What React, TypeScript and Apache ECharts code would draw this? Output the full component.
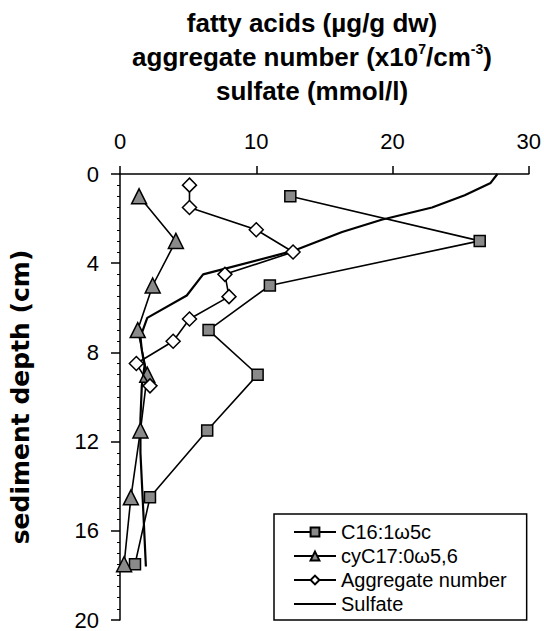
import React, { useEffect, useRef } from "react";
import * as echarts from "echarts";

const FONT = "'Liberation Sans', Arial, sans-serif";
const WIDE = "'DejaVu Sans', Verdana, sans-serif";

const c16Depth = [1, 3, 5, 7, 9, 11.5, 14.5, 17.5];
const c16Values = [12.5, 26.4, 11, 6.5, 10.1, 6.4, 2.2, 1.1];

const cyDepth = [1, 3, 5, 7, 9, 11.5, 14.5, 17.5];
const cyValues = [1.4, 4.1, 2.4, 1.3, 2.0, 1.5, 0.8, 0.3];

const aggDepth = [0.5, 1.5, 2.5, 3.5, 4.5, 5.5, 6.5, 7.5, 8.5, 9.5];
const aggValues = [5.1, 5.1, 10, 12.7, 7.7, 8.0, 5.1, 3.9, 1.2, 2.2];

const sulfDepth = [0, 0.4, 0.95, 1.5, 2.05, 2.6, 3.45, 4.5, 5.45, 6.45, 7.3, 7.9, 8.6, 9.5, 11, 12.5, 15, 17.6];
const sulfValues = [27.7, 27.2, 25.3, 22.9, 19.2, 16.3, 12.7, 6.1, 4.9, 2.0, 1.5, 1.6, 1.8, 1.6, 1.5, 1.5, 1.7, 1.9];

const xTicks = [0, 10, 20, 30];
const yTicks = [0, 4, 8, 12, 16, 20];

const seriesNames = ["C16:1\u03c95c", "cyC17:0\u03c95,6", "Aggregate number", "Sulfate"];

const pairs = (vals: number[], depths: number[]) => vals.map((v, i) => [v, depths[i]]);

export default function App() {
  const ref = useRef<HTMLDivElement>(null);
  useEffect(() => {
    if (!ref.current) return;
    const chart = echarts.init(ref.current, null, { renderer: "svg" });
    const lineStyle = { color: "#000", width: 1.6 };
    chart.setOption({
      animation: false,
      backgroundColor: "#fff",
      grid: { left: 114, top: 174, width: 415, height: 446 },
      xAxis: {
        type: "value",
        position: "top",
        min: xTicks[0],
        max: xTicks[xTicks.length - 1],
        interval: 10,
        axisLine: { show: true, lineStyle: { color: "#000", width: 1.5 } },
        axisTick: { show: true, inside: false, length: 8, lineStyle: { color: "#000", width: 1.5 } },
        axisLabel: { fontSize: 22, color: "#000", fontFamily: FONT, margin: 22 },
        splitLine: { show: false },
      },
      yAxis: {
        type: "value",
        inverse: true,
        min: yTicks[0],
        max: yTicks[yTicks.length - 1],
        interval: 4,
        name: "sediment depth (cm)",
        nameLocation: "middle",
        nameRotate: 90,
        nameGap: 87,
        nameTextStyle: { fontSize: 25, fontWeight: "bold", color: "#000", fontFamily: WIDE },
        axisLine: { show: true, lineStyle: { color: "#000", width: 1.5 } },
        axisTick: { show: true, inside: false, length: 9, lineStyle: { color: "#000", width: 1.5 } },
        minorTick: { show: true, splitNumber: 8, length: 3, lineStyle: { color: "#000", width: 1 } },
        axisLabel: { fontSize: 22, color: "#000", fontFamily: FONT, margin: 21 },
        splitLine: { show: false },
      },
      legend: {
        orient: "vertical",
        left: 274,
        top: 514,
        padding: [8, 20, 6, 19],
        borderColor: "#000",
        borderWidth: 1.5,
        backgroundColor: "#fff",
        itemWidth: 42,
        itemHeight: 11,
        itemGap: 4,
        textStyle: { fontSize: 20, lineHeight: 20, color: "#000", fontFamily: FONT },
        data: [
          { name: seriesNames[0] },
          { name: seriesNames[1] },
          { name: seriesNames[2] },
          { name: seriesNames[3], icon: "path://M0,0L42,0L42,2.2L0,2.2Z", itemStyle: { color: "#000" } },
        ],
      },
      graphic: [
        {
          type: "text",
          x: 312,
          y: 23,
          style: {
            text: "fatty acids (\u00b5g/g dw)",
            fontSize: 26,
            fontWeight: "bold",
            fontFamily: FONT,
            fill: "#000",
            align: "center",
            verticalAlign: "middle",
          },
        },
        {
          type: "text",
          x: 312,
          y: 57,
          style: {
            text: "{n|aggregate number (x10}{s|7}{n|/cm}{s|-3}{n|)}",
            align: "center",
            verticalAlign: "middle",
            rich: {
              n: { fontSize: 26, fontWeight: "bold", fontFamily: FONT, fill: "#000", lineHeight: 30 },
              s: { fontSize: 14, fontWeight: "bold", fontFamily: FONT, fill: "#000", lineHeight: 14, verticalAlign: "top" },
            },
          },
        },
        {
          type: "text",
          x: 312,
          y: 91,
          style: {
            text: "sulfate (mmol/l)",
            fontSize: 26,
            fontWeight: "bold",
            fontFamily: FONT,
            fill: "#000",
            align: "center",
            verticalAlign: "middle",
          },
        },
      ],
      series: [
        {
          name: seriesNames[0],
          type: "line",
          data: pairs(c16Values, c16Depth),
          symbol: "rect",
          symbolSize: 11,
          itemStyle: { color: "#8a8a8a", borderColor: "#000", borderWidth: 1.5 },
          lineStyle,
          z: 4,
        },
        {
          name: seriesNames[1],
          type: "line",
          data: pairs(cyValues, cyDepth),
          symbol: "triangle",
          symbolSize: 15,
          itemStyle: { color: "#8a8a8a", borderColor: "#000", borderWidth: 1.5 },
          lineStyle,
          z: 4,
        },
        {
          name: seriesNames[2],
          type: "line",
          data: pairs(aggValues, aggDepth),
          symbol: "diamond",
          symbolSize: 14,
          itemStyle: { color: "#fff", borderColor: "#000", borderWidth: 1.5 },
          lineStyle,
          z: 5,
        },
        {
          name: seriesNames[3],
          type: "line",
          data: pairs(sulfValues, sulfDepth),
          symbol: "none",
          itemStyle: { color: "#000" },
          lineStyle: { color: "#000", width: 2.2 },
          z: 3,
        },
      ],
    });
    return () => chart.dispose();
  }, []);
  return <div ref={ref} style={{ position: "fixed", left: 0, top: 0, width: 544, height: 631 }} />;
}
